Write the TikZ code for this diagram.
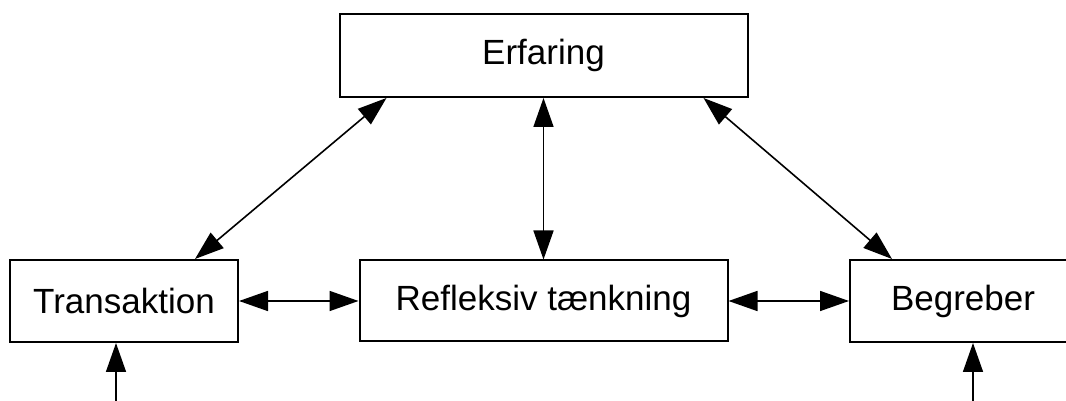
\documentclass[tikz,border=0pt]{standalone}
\usepackage{fontspec}
\setmainfont{Liberation Sans}
\usetikzlibrary{arrows.meta,calc}
\begin{document}
\begin{tikzpicture}[x=1pt,y=1pt,
  box/.style={draw=black,line width=2pt,fill=white,rectangle,inner sep=0pt,font=\fontsize{35}{42}\selectfont},
  conn/.style={line width=1.6pt,{Triangle[length=29pt,width=20pt]}-{Triangle[length=29pt,width=20pt]}},
  upconn/.style={line width=1.6pt,-{Triangle[length=29pt,width=20pt]}}]
\useasboundingbox (0,0) rectangle (1066,401);
\node[box,minimum width=408pt,minimum height=83pt] (erf) at (543.5,345.5) {Erfaring};
\node[box,minimum width=228pt,minimum height=82pt] (trans) at (124,100) {Transaktion};
\node[box,minimum width=368pt,minimum height=81pt] (refl) at (543.5,100) {Refleksiv tænkning};
\node[box,minimum width=226pt,minimum height=82pt] (beg) at (963,100) {Begreber};
\coordinate (b1) at (116,-2);
\coordinate (b2) at (973,-2);
\draw[conn] ([xshift=48pt]erf.south west) -- ([xshift=71pt]trans.north);
\draw[conn] ([xshift=-45pt]erf.south east) -- ([xshift=-71pt]beg.north);
\draw[conn] (erf.south) -- (refl.north);
\draw[conn] (trans.east) -- (refl.west);
\draw[conn] (refl.east) -- (beg.west);
\draw[upconn] (b1) -- (b1 |- trans.south);
\draw[upconn] (b2) -- (b2 |- beg.south);
\end{tikzpicture}
\end{document}
